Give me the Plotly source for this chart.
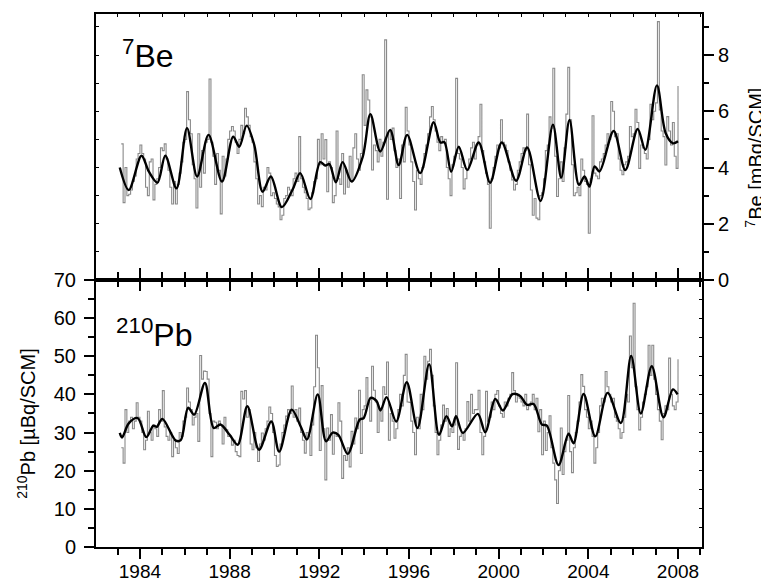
import plotly.graph_objects as go

# ---------------- data ----------------
START_YEAR = 1983
START_MONTH = 3  # first monthly value (March 1983)

# monthly 7Be concentrations [mBq/SCM]
be7_monthly = [
    4.84, 2.75, 4.0, 3.0, 3.05, 3.2, 3.5, 3.7, 4.3, 4.5,                      # 1983 (Mar-Dec)
    4.8, 4.5, 4.3, 3.3, 3.0, 4.2, 4.3, 2.85, 3.4, 3.6, 4.0, 4.7,             # 1984
    4.6, 4.84, 4.3, 3.9, 3.3, 2.7, 3.5, 2.7, 3.4, 3.8, 4.2, 4.9,             # 1985
    5.0, 6.7, 5.7, 5.2, 4.1, 3.6, 2.56, 5.2, 3.3, 4.6, 3.8, 4.9,             # 1986
    5.0, 7.15, 4.9, 4.4, 3.4, 4.5, 3.9, 2.35, 4.4, 3.7, 4.3, 5.0,            # 1987
    5.3, 5.46, 5.3, 4.9, 4.5, 5.0, 5.5, 5.2, 6.11, 5.8, 5.5, 5.1,            # 1988
    4.9, 4.2, 3.6, 2.7, 3.0, 2.61, 3.3, 3.2, 4.0, 3.8, 3.0, 3.1,             # 1989
    2.9, 2.7, 2.6, 2.14, 2.3, 2.9, 3.0, 3.3, 3.2, 3.0, 3.6, 3.8,             # 1990
    3.5, 5.1, 3.6, 3.3, 3.1, 2.9, 2.5, 2.56, 3.1, 3.5, 3.6, 5.0,             # 1991
    4.1, 5.2, 4.3, 4.99, 3.14, 4.2, 4.0, 2.75, 3.0, 5.3, 3.6, 3.4,           # 1992
    4.5, 3.06, 3.9, 3.3, 4.4, 3.5, 4.7, 5.2, 4.3, 3.9, 4.5, 7.3,             # 1993
    5.5, 6.76, 6.4, 5.8, 3.91, 4.8, 4.6, 4.2, 5.0, 4.4, 4.9, 8.54,           # 1994
    2.87, 5.3, 5.0, 5.4, 4.6, 4.0, 4.3, 2.9, 4.8, 4.2, 6.14, 5.3,            # 1995
    4.8, 4.2, 3.5, 2.49, 3.9, 3.6, 3.4, 4.0, 4.5, 4.8, 5.2, 5.8,             # 1996
    6.17, 5.7, 5.3, 4.9, 4.6, 5.1, 4.9, 5.0, 4.0, 3.6, 3.0, 4.1,             # 1997
    4.4, 7.17, 4.5, 4.3, 4.0, 3.24, 3.6, 3.9, 4.3, 4.7, 4.9, 4.3,            # 1998
    4.8, 5.1, 6.25, 4.6, 4.2, 3.8, 3.4, 1.84, 3.6, 4.0, 4.4, 4.8,            # 1999
    4.7, 5.7, 4.9, 4.8, 4.6, 4.2, 3.9, 3.56, 3.2, 3.4, 3.9, 4.2,             # 2000
    4.5, 4.7, 4.6, 5.9, 4.1, 3.2, 2.3, 2.9, 2.2, 2.14, 3.0, 3.1,             # 2001
    3.6, 4.6, 4.8, 5.8, 5.4, 7.53, 4.4, 2.97, 3.6, 4.2, 3.5, 4.7,            # 2002
    5.9, 7.56, 5.7, 4.1, 3.0, 3.1, 3.3, 3.0, 4.3, 3.9, 3.5, 3.4,             # 2003
    1.66, 3.6, 5.84, 3.8, 3.7, 3.6, 4.2, 4.3, 4.5, 4.8, 5.2, 5.0,            # 2004
    6.35, 6.0, 5.1, 5.2, 4.3, 3.9, 3.74, 4.1, 4.2, 4.4, 5.46, 5.1,           # 2005
    5.2, 6.07, 5.6, 3.97, 4.8, 4.7, 4.5, 4.3, 5.0, 6.25, 5.7, 6.0,           # 2006
    6.3, 9.19, 6.05, 5.3, 5.1, 4.09, 5.81, 5.3, 4.8, 5.6, 4.4, 3.97,         # 2007
    6.9,                                                                     # 2008 (Jan)
]

# monthly 210Pb concentrations [uBq/SCM]
pb210_monthly = [
    26, 22, 36, 30, 33, 34, 31, 33, 37.8, 34,                                # 1983 (Mar-Dec)
    33, 30, 25.5, 28, 35.6, 30, 28, 32, 31, 29, 36, 33,                      # 1984
    41, 31.5, 29, 28, 30, 23.7, 28, 26, 24.5, 30, 29, 33,                    # 1985
    34, 41.7, 38, 36, 32, 34, 35, 27.7, 50.2, 44, 46.1, 46,                  # 1986
    44, 35, 23.7, 33, 32.7, 31, 33, 32, 27, 34, 30.7, 29,                    # 1987
    29, 26.7, 28, 25, 24, 23.7, 40.8, 38.8, 41, 34, 36, 27,                  # 1988
    25.5, 30, 26, 22.4, 27, 29.9, 28, 31, 33, 36.7, 35, 30,                  # 1989
    24, 21.1, 21.5, 27, 30, 32, 34.3, 36, 35, 42.2, 34, 36,                  # 1990
    33, 36.4, 30, 28, 24.6, 30, 29, 24, 32, 42, 55.5, 47,                    # 1991
    25.3, 42.3, 31, 17.6, 31.2, 28, 34.7, 24.3, 30, 29, 37.8, 33,            # 1992
    18, 24, 22.7, 26, 21, 30.3, 27, 33.8, 31, 41.1, 24.5, 36,                # 1993
    37, 44.4, 38, 33, 47.4, 41.1, 38, 30, 36, 33, 42, 40,                    # 1994
    48.5, 28, 35, 33, 28.5, 31, 36, 40, 37, 45, 50.5, 38,                    # 1995
    37.9, 33, 30, 24.2, 34, 31, 40, 36, 50, 44, 48.7, 51.8,                  # 1996
    45, 37, 30, 24.2, 28, 32, 37.2, 33, 36.3, 29, 31, 30,                    # 1997
    32, 48.3, 25.6, 29, 30, 28, 31, 38.1, 33, 40, 35, 36,                    # 1998
    36, 41.1, 30, 24.2, 29, 40.8, 33, 34, 38, 36, 40, 41,                    # 1999
    37, 35, 34, 38, 37, 39, 40, 45.7, 41, 38, 40, 39,                        # 2000
    38, 37, 40, 36, 37, 38, 40, 36, 39, 30.2, 36, 24.2,                      # 2001
    33, 25.3, 30, 34.4, 26, 22, 17.6, 11.4, 20, 31.2, 19, 25,                # 2002
    28, 39.7, 25, 19.5, 26, 30, 33, 38, 45.2, 42.1, 36, 34,                  # 2003
    31, 33, 29, 22, 26, 30, 37, 39, 38, 46, 42, 40,                          # 2004
    38, 39, 34, 33, 31, 28.5, 30, 34, 40, 38, 55.3, 47,                      # 2005
    63.9, 42, 36, 30.7, 34, 38, 40, 42, 52.9, 45, 52.9, 44,                  # 2006
    40, 36, 33, 28.1, 35, 37, 36, 49.5, 40, 37, 36, 38,                      # 2007
    49.2,                                                                    # 2008 (Jan)
]

# smoothed curves (read at their turning points)
be7_smooth_x = [1983.1, 1983.5, 1984.07, 1984.4, 1984.78, 1985.13, 1985.63, 1986.1, 1986.55,
                1987.06, 1987.66, 1988.16, 1988.43, 1988.76, 1989.1, 1989.47, 1989.84, 1990.33,
                1990.8, 1991.15, 1991.6, 1992.04, 1992.27, 1992.45, 1992.74, 1993.04, 1993.44,
                1993.94, 1994.28, 1994.72, 1995.16, 1995.54, 1995.92, 1996.5, 1997.1, 1997.4,
                1997.58, 1997.88, 1998.22, 1998.6, 1999.11, 1999.62, 2000.14, 2000.78, 2001.27,
                2001.87, 2002.42, 2002.79, 2003.16, 2003.58, 2003.83, 2004.05, 2004.28, 2004.5,
                2005.13, 2005.65, 2006.2, 2006.54, 2007.06, 2007.45, 2007.78, 2008.0]
be7_smooth_y = [4.0, 3.2, 4.42, 3.85, 3.46, 4.42, 3.26, 5.4, 3.68,
                5.16, 3.5, 5.1, 4.74, 5.49, 4.8, 3.14, 3.68, 2.59,
                3.2, 3.8, 2.88, 4.19, 4.07, 4.12, 3.47, 4.19, 3.5,
                4.39, 5.9, 4.57, 5.34, 4.09, 5.16, 3.8, 5.61, 4.89,
                4.9, 3.85, 4.74, 3.91, 4.89, 3.46, 4.89, 3.53, 4.71,
                2.81, 5.52, 3.64, 5.69, 3.38, 3.68, 3.32, 4.04, 3.86,
                5.3, 3.91, 5.37, 4.63, 6.92, 5.22, 4.86, 4.93]

pb210_smooth_x = [1983.1, 1983.2, 1983.5, 1983.9, 1984.28, 1984.6, 1984.75, 1985.0, 1985.6,
                  1985.82, 1986.15, 1986.42, 1986.9, 1987.29, 1987.59, 1988.0, 1988.36, 1988.79,
                  1989.31, 1989.86, 1990.21, 1990.77, 1991.17, 1991.45, 1991.93, 1992.3, 1992.6,
                  1992.85, 1993.27, 1993.8, 1993.98, 1994.29, 1994.55, 1994.73, 1995.0, 1995.43,
                  1995.9, 1996.38, 1996.9, 1997.34, 1997.67, 1997.92, 1998.1, 1998.4, 1999.07,
                  1999.4, 1999.85, 2000.19, 2000.62, 2000.96, 2001.26, 2001.56, 2001.93, 2002.15,
                  2002.67, 2003.12, 2003.34, 2003.79, 2004.31, 2004.86, 2005.45, 2005.91, 2006.34,
                  2006.83, 2007.35, 2007.77, 2007.98]
pb210_smooth_y = [29.9, 28.7, 32.4, 33.8, 28.8, 31.8, 31.5, 33.6, 27.9,
                  28.0, 36.5, 34.7, 43.0, 31.2, 32.1, 29.4, 26.8, 36.9,
                  25.5, 32.9, 25.0, 36.0, 31.6, 28.2, 40.0, 27.7, 30.0,
                  29.4, 24.4, 33.4, 33.8, 39.1, 38.3, 35.8, 39.3, 32.9,
                  43.2, 31.2, 47.9, 29.4, 34.3, 31.6, 34.3, 29.9, 34.9,
                  30.1, 38.8, 35.8, 40.1, 39.6, 37.3, 37.5, 32.1, 31.8,
                  21.5, 29.7, 27.2, 40.1, 29.0, 40.4, 32.5, 50.1, 35.0,
                  47.4, 34.0, 41.3, 40.0]

x_range = [1982.04, 2009.07]
be7_range = [0, 9.46]
pb210_range = [0, 70]


def month_positions(n):
    return [START_YEAR + (START_MONTH - 1 + i) / 12.0 for i in range(n)]


GRAY = "#8a8a8a"
FONT = "Liberation Sans, Arial, sans-serif"

fig = go.Figure()

# top panel: 7Be
fig.add_trace(go.Scatter(x=month_positions(len(be7_monthly)), y=be7_monthly, mode="lines",
                         line=dict(shape="hv", color=GRAY, width=1.1),
                         xaxis="x2", yaxis="y2", hoverinfo="skip"))
fig.add_trace(go.Scatter(x=be7_smooth_x, y=be7_smooth_y, mode="lines",
                         line=dict(shape="spline", smoothing=0.9, color="black", width=2.4),
                         xaxis="x2", yaxis="y2", hoverinfo="skip"))
# bottom panel: 210Pb
fig.add_trace(go.Scatter(x=month_positions(len(pb210_monthly)), y=pb210_monthly, mode="lines",
                         line=dict(shape="hv", color=GRAY, width=1.1),
                         xaxis="x", yaxis="y", hoverinfo="skip"))
fig.add_trace(go.Scatter(x=pb210_smooth_x, y=pb210_smooth_y, mode="lines",
                         line=dict(shape="spline", smoothing=0.9, color="black", width=2.4),
                         xaxis="x", yaxis="y", hoverinfo="skip"))

# dummy traces to activate the helper (tick-only) axes
for xa, ya in [("x3", "y2"), ("x2", "y3"), ("x", "y4")]:
    fig.add_trace(go.Scatter(x=[None], y=[None], mode="lines", xaxis=xa, yaxis=ya,
                             hoverinfo="skip", showlegend=False))

tickfont = dict(family=FONT, size=20, color="black")
xtickfont = dict(family=FONT, size=19, color="black")
LW = 2
SPLIT = 0.501

fig.update_layout(
    width=769, height=583, autosize=False,
    # the page body adds an 8px offset, so margins are compensated
    margin=dict(l=88, r=75, t=6, b=44, pad=0),
    paper_bgcolor="white", plot_bgcolor="white",
    showlegend=False,
    font=dict(family=FONT, color="black"),
    # bottom panel x axis (labels)
    xaxis=dict(domain=[0, 1], anchor="y", range=x_range, tick0=1984, dtick=4,
               ticks="outside", ticklen=10, tickwidth=1.5, tickcolor="black",
               minor=dict(dtick=1, tick0=1984, ticks="outside", ticklen=6, tickwidth=1.5, tickcolor="black"),
               showline=True, linewidth=LW, linecolor="black", mirror="ticks",
               showgrid=False, zeroline=False, tickfont=xtickfont, ticklabelstandoff=-4,
               automargin=False),
    # top panel x axis (no labels, ticks hanging into bottom panel)
    xaxis2=dict(domain=[0, 1], anchor="y2", range=x_range, tick0=1984, dtick=4,
                ticks="outside", ticklen=9, tickwidth=1.5, tickcolor="black",
                minor=dict(dtick=1, tick0=1984, ticks="outside", ticklen=5, tickwidth=1.5, tickcolor="black"),
                showline=True, linewidth=LW, linecolor="black", mirror=True,
                showgrid=False, zeroline=False, showticklabels=False, automargin=False),
    # top edge small inward ticks
    xaxis3=dict(overlaying="x2", anchor="y2", side="top", range=x_range, tick0=1984, dtick=1,
                ticks="inside", ticklen=3, tickwidth=1, tickcolor="black",
                showline=False, showgrid=False, zeroline=False, showticklabels=False,
                automargin=False),
    # bottom panel y (left)
    yaxis=dict(domain=[0, SPLIT], anchor="x", range=pb210_range, dtick=10,
               ticks="outside", ticklen=10, tickwidth=1.5, tickcolor="black",
               minor=dict(dtick=5, ticks="outside", ticklen=6, tickwidth=1.5, tickcolor="black"),
               showline=True, linewidth=LW, linecolor="black", mirror=True,
               showgrid=False, zeroline=False, tickfont=tickfont, ticklabelstandoff=4,
               automargin=False),
    # top panel y (right)
    yaxis2=dict(domain=[SPLIT, 1], anchor="x2", side="right", range=be7_range, dtick=2,
                ticks="outside", ticklen=10, tickwidth=1.5, tickcolor="black",
                minor=dict(dtick=1, ticks="outside", ticklen=5, tickwidth=1.5, tickcolor="black"),
                showline=True, linewidth=LW, linecolor="black", mirror=True,
                showgrid=False, zeroline=False, tickfont=tickfont, automargin=False),
    # top panel left inward ticks
    yaxis3=dict(overlaying="y2", anchor="x2", side="left", range=be7_range, dtick=1,
                ticks="inside", ticklen=3, tickwidth=1, tickcolor="black",
                showline=False, showgrid=False, zeroline=False, showticklabels=False,
                automargin=False),
    # bottom panel right inward ticks
    yaxis4=dict(overlaying="y", anchor="x", side="right", range=pb210_range, dtick=5,
                ticks="inside", ticklen=3, tickwidth=1, tickcolor="black",
                showline=False, showgrid=False, zeroline=False, showticklabels=False,
                automargin=False),
)

annots = [
    dict(text="<sup>7</sup>Be", x=0.040, y=0.925, xanchor="left", yanchor="middle",
         font=dict(family=FONT, size=32, color="black")),
    dict(text="<sup>210</sup>Pb", x=0.030, y=0.401, xanchor="left", yanchor="middle",
         font=dict(family=FONT, size=32, color="black")),
    dict(text="<sup>7</sup>Be [mBq/SCM]", x=1.087, y=0.73, xanchor="center", yanchor="middle",
         textangle=-90, font=dict(family=FONT, size=20, color="black")),
    dict(text="<sup>210</sup>Pb [µBq/SCM]", x=-0.114, y=0.231, xanchor="center", yanchor="middle",
         textangle=-90, font=dict(family=FONT, size=20, color="black")),
]
for a in annots:
    fig.add_annotation(xref="paper", yref="paper", showarrow=False, **a)

fig.write_html("out.html", config={"displayModeBar": False})
